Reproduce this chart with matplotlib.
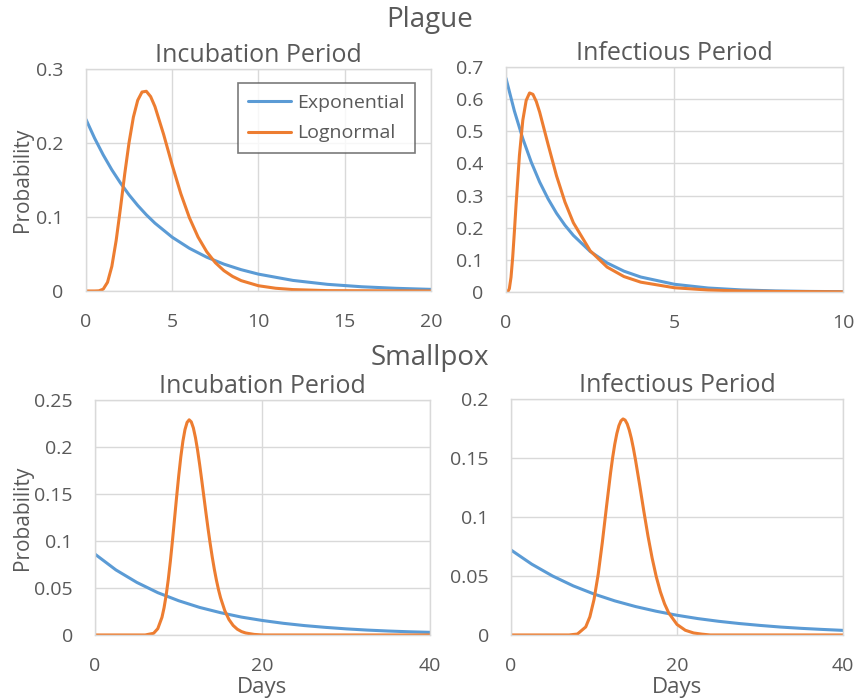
import matplotlib.pyplot as plt
from matplotlib.ticker import FuncFormatter

# Plague - incubation period (days)
plague_inc_exp_x = [0, 0.5, 1, 1.5, 2, 2.5, 3, 3.5, 4, 5, 6, 7, 8, 9, 10, 12, 14,
                    16, 18, 20]
plague_inc_exp_y = [0.232, 0.2066, 0.184, 0.1638, 0.146, 0.1299, 0.1157, 0.103,
                    0.0917, 0.0727, 0.0577, 0.0457, 0.0363, 0.0288, 0.0228, 0.0143,
                    0.0090, 0.0057, 0.0036, 0.0022]
plague_inc_log_x = [0, 0.5, 0.75, 1, 1.25, 1.5, 1.75, 2, 2.25, 2.5, 2.75, 3, 3.25,
                    3.5, 3.75, 4, 4.5, 5, 5.5, 6, 6.5, 7, 7.5, 8, 8.5, 9, 10, 11,
                    12, 14, 20]
plague_inc_log_y = [0, 0, 0.0002, 0.0025, 0.0118, 0.0333, 0.0682, 0.112, 0.1588,
                    0.201, 0.2351, 0.2578, 0.269, 0.270, 0.2628, 0.2493, 0.2119,
                    0.1702, 0.1315, 0.0989, 0.0729, 0.0531, 0.0383, 0.0275, 0.0197,
                    0.0140, 0.0071, 0.0037, 0.0019, 0.0005, 0]

# Plague - infectious period (days)
plague_inf_exp_x = [0, 0.25, 0.5, 0.75, 1, 1.25, 1.5, 1.75, 2, 2.5, 3, 3.5, 4, 5,
                    6, 7, 8, 9, 10]
plague_inf_exp_y = [0.665, 0.563, 0.477, 0.404, 0.342, 0.2897, 0.245, 0.2077,
                    0.176, 0.126, 0.0904, 0.0648, 0.0465, 0.0239, 0.0123, 0.0063,
                    0.0033, 0.0017, 0.0009]
plague_inf_log_x = [0, 0.05, 0.1, 0.15, 0.2, 0.25, 0.3, 0.4, 0.5, 0.6, 0.7, 0.8,
                    0.9, 1.0, 1.25, 1.5, 1.75, 2, 2.5, 3, 3.5, 4, 5, 6, 7, 8, 10]
plague_inf_log_y = [0, 0.0004, 0.0101, 0.0458, 0.1083, 0.1877, 0.2723, 0.4256,
                    0.5345, 0.596, 0.6192, 0.6149, 0.5926, 0.5595, 0.459, 0.3615,
                    0.2799, 0.2154, 0.128, 0.0775, 0.048, 0.0305, 0.0131, 0.0061,
                    0.003, 0.0016, 0.0005]

# Smallpox - incubation period (days)
small_inc_exp_x = [0, 2.5, 5, 7.5, 10, 12.5, 15, 17.5, 20, 22.5, 25, 27.5, 30,
                   32.5, 35, 37.5, 40]
small_inc_exp_y = [0.086, 0.0692, 0.0559, 0.045, 0.0364, 0.0293, 0.0237, 0.019,
                   0.0154, 0.0124, 0.01, 0.0081, 0.0065, 0.0052, 0.0042, 0.0034,
                   0.0028]
small_inc_log_x = [0, 6, 7, 7.5, 8, 8.25, 8.5, 8.75, 9, 9.25, 9.5, 9.75, 10,
                   10.25, 10.5, 10.75, 11, 11.25, 11.5, 11.75, 12, 12.25, 12.5,
                   12.75, 13, 13.25, 13.5, 13.75, 14, 14.25, 14.5, 14.75, 15, 15.5,
                   16, 16.5, 17, 17.5, 18, 19, 20, 40]
small_inc_log_y = [0, 0, 0.0018, 0.0067, 0.0188, 0.029, 0.0423, 0.0588, 0.0783,
                   0.1002, 0.1235, 0.147, 0.1694, 0.1895, 0.2062, 0.2186, 0.2262,
                   0.2289, 0.2267, 0.2202, 0.2099, 0.1967, 0.1813, 0.1646, 0.1473,
                   0.13, 0.1133, 0.0976, 0.0831, 0.07, 0.0584, 0.0482, 0.0395,
                   0.0259, 0.0164, 0.0101, 0.0061, 0.0036, 0.0021, 0.0006, 0, 0]

# Smallpox - infectious period (days)
small_inf_exp_x = [0, 2.5, 5, 7.5, 10, 12.5, 15, 17.5, 20, 22.5, 25, 27.5, 30,
                   32.5, 35, 37.5, 40]
small_inf_exp_y = [0.072, 0.06, 0.05, 0.0416, 0.0347, 0.0289, 0.0241, 0.0201,
                   0.0167, 0.0139, 0.0116, 0.0097, 0.0081, 0.0067, 0.0056, 0.0047,
                   0.0039]
small_inf_log_x = [0, 7, 8, 9, 9.5, 10, 10.5, 11, 11.5, 12, 12.25, 12.5, 12.75,
                   13, 13.25, 13.5, 13.75, 14, 14.25, 14.5, 14.75, 15, 15.5, 16,
                   16.5, 17, 17.5, 18, 18.5, 19, 20, 21, 22, 23, 24, 40]
small_inf_log_y = [0, 0, 0.0008, 0.0068, 0.0154, 0.03, 0.0513, 0.0784, 0.1085,
                   0.1377, 0.1506, 0.1617, 0.1707, 0.1774, 0.1815, 0.1831, 0.1821,
                   0.1789, 0.1736, 0.1666, 0.158, 0.1483, 0.1271, 0.105, 0.084,
                   0.0653, 0.0494, 0.0365, 0.0264, 0.0187, 0.0089, 0.004, 0.0017,
                   0.0007, 0, 0]

blue = "#5B9BD5"
orange = "#ED7D31"
text_col = "#595959"
grid_col = "#D9D9D9"

plt.rcParams["font.family"] = ["Open Sans", "DejaVu Sans"]

fig = plt.figure(figsize=(8.58, 7.0), dpi=100)

panels = [
    # rect, data, xlim, xticks, ylim, yticks, title
    ([0.1002, 0.5843, 0.402, 0.317],
     (plague_inc_exp_x, plague_inc_exp_y, plague_inc_log_x, plague_inc_log_y),
     20, [0, 5, 10, 15, 20], 0.3, [0, 0.1, 0.2, 0.3], "Incubation Period"),
    ([0.5897, 0.5829, 0.3928, 0.3214],
     (plague_inf_exp_x, plague_inf_exp_y, plague_inf_log_x, plague_inf_log_y),
     10, [0, 5, 10], 0.7, [0, 0.1, 0.2, 0.3, 0.4, 0.5, 0.6, 0.7], "Infectious Period"),
    ([0.1107, 0.0929, 0.3904, 0.3357],
     (small_inc_exp_x, small_inc_exp_y, small_inc_log_x, small_inc_log_y),
     40, [0, 20, 40], 0.25, [0, 0.05, 0.1, 0.15, 0.2, 0.25], "Incubation Period"),
    ([0.5956, 0.0929, 0.3869, 0.3371],
     (small_inf_exp_x, small_inf_exp_y, small_inf_log_x, small_inf_log_y),
     40, [0, 20, 40], 0.2, [0, 0.05, 0.1, 0.15, 0.2], "Infectious Period"),
]

fmt = FuncFormatter(lambda v, pos: "{:g}".format(round(v, 3)))

axes = []
for rect, (ex, ey, lx, ly), xmax, xt, ymax, yt, title in panels:
    ax = fig.add_axes(rect)
    ax.plot(ex, ey, color=blue, lw=2.2, label="Exponential",
            solid_capstyle="round", solid_joinstyle="round")
    ax.plot(lx, ly, color=orange, lw=2.2, label="Lognormal",
            solid_capstyle="round", solid_joinstyle="round")
    ax.set_xlim(0, xmax)
    ax.set_ylim(0, ymax)
    ax.set_xticks(xt)
    ax.set_yticks(yt)
    ax.xaxis.set_major_formatter(fmt)
    ax.yaxis.set_major_formatter(fmt)
    ax.tick_params(length=0, labelsize=14, labelcolor=text_col, pad=16)
    ax.grid(True, color=grid_col, lw=1)
    ax.set_axisbelow(True)
    for s in ax.spines.values():
        s.set_color(grid_col)
        s.set_linewidth(1)
    ax.set_title(title, fontsize=18, color=text_col, pad=5)
    axes.append(ax)

# y label sits partly over the tick labels, as in the original
axes[0].set_ylabel("Probability", fontsize=15, color=text_col)
axes[0].yaxis.set_label_coords(-0.155, 0.5)
axes[2].set_ylabel("Probability", fontsize=15, color=text_col)
axes[2].yaxis.set_label_coords(-0.185, 0.5)
for ax in axes[2:]:
    ax.set_xlabel("Days", fontsize=16, color=text_col, labelpad=1)

leg = axes[0].legend(loc="upper right", bbox_to_anchor=(0.954, 0.937), fontsize=14,
                     frameon=True, fancybox=False, handlelength=2.2,
                     borderpad=0.55, labelspacing=0.65, handletextpad=0.3,
                     borderaxespad=0)
leg.get_frame().set_edgecolor(text_col)
leg.get_frame().set_linewidth(1.2)
for t in leg.get_texts():
    t.set_color(text_col)

fig.text(0.501, 0.972, "Plague", ha="center", va="center", fontsize=20, color=text_col)
fig.text(0.501, 0.489, "Smallpox", ha="center", va="center", fontsize=20, color=text_col)

plt.savefig("out.png", dpi=100)
